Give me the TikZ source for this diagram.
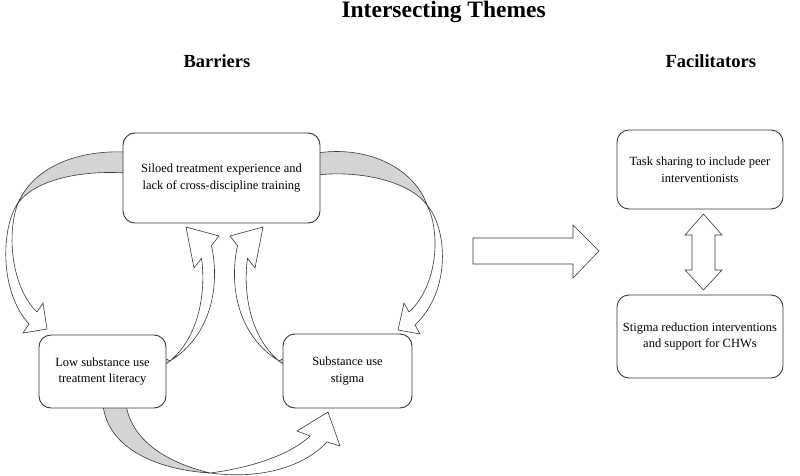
\documentclass[tikz,border=0pt]{standalone}
\usepackage{fontspec}
\setmainfont{Liberation Serif}
\definecolor{twist}{RGB}{212,212,212}
\definecolor{edge}{RGB}{55,55,55}

\begin{document}
\begin{tikzpicture}[x=1pt, y=-1pt,
    every node/.style={font=\fontsize{12.5}{16.5}\selectfont, align=center},
    box/.style={draw=edge, fill=white, line width=0.9pt, rounded corners=12pt, inner sep=0pt},
    heading/.style={font=\bfseries\fontsize{18.5}{22}\selectfont, anchor=base west},
    band/.style={draw=edge, line width=0.6pt, fill=white},
    back/.style={draw=edge, line width=0.6pt, fill=twist}]
    \useasboundingbox (0,0) rectangle (800,476);

    % Titles
    \node[heading, font=\bfseries\fontsize{23.5}{26}\selectfont] (title) at (338,18) {Intersecting Themes};
    \node[heading] (barriers) at (180,68) {Barriers};
    \node[heading] (facilitators) at (662,68) {Facilitators};

    % Curved arrow, siloed -> literacy
    \draw[back] (126,152) .. controls (80,150) and (35,165) .. (18,203)
                .. controls (35,180) and (80,170) .. (126,173) -- cycle;
    \draw[band] (18,203) .. controls (2,225) and (-2,290) .. (29,324)
                -- (23,333) -- (47,329) -- (43,303) -- (37,312)
                .. controls (12,288) and (6,235) .. (18,203) -- cycle;

    % Curved arrow, siloed -> stigma
    \draw[back] (317,153) .. controls (370,145) and (415,170) .. (427,205)
                .. controls (410,182) and (362,170) .. (317,175) -- cycle;
    \draw[band] (427,205) .. controls (447,228) and (452,290) .. (415,325)
                -- (420,334) -- (398,330) -- (404,303) -- (409,312)
                .. controls (436,288) and (442,235) .. (427,205) -- cycle;

    % Curved arrow, literacy -> stigma
    \draw[back] (103,405) .. controls (108,450) and (160,470) .. (210,473)
                .. controls (165,462) and (132,440) .. (126,405) -- cycle;
    \draw[band] (210,473) .. controls (262,480) and (305,466) .. (327,442)
                -- (340,446) -- (328,412) -- (297,431) -- (310,436)
                .. controls (290,455) and (250,468) .. (210,473) -- cycle;

    % Up arrows into siloed
    \draw[back] (163,357) -- (170,361) -- (163,366) -- cycle;
    \draw[band] (170,361) .. controls (200,336) and (206,290) .. (201.5,258.4)
                -- (194,268) -- (186,227) -- (219,236) -- (211.5,245.6)
                .. controls (220,285) and (212,335) .. (170,361) -- cycle;
    \draw[back] (286,357) -- (279,361) -- (286,366) -- cycle;
    \draw[band] (279,361) .. controls (249,336) and (243,290) .. (247.5,258.4)
                -- (255,268) -- (263,227) -- (230,236) -- (237.5,245.6)
                .. controls (229,285) and (237,335) .. (279,361) -- cycle;

    % Barriers boxes
    \node[box, minimum width=197pt, minimum height=90pt] (siloed) at (221.5,178)
        {Siloed treatment experience and\\lack of cross-discipline training};
    \node[box, minimum width=127pt, minimum height=73pt] (literacy) at (102.5,371.5)
        {Low substance use\\treatment literacy};
    \node[box, minimum width=129pt, minimum height=74pt] (stigma) at (347.5,371)
        {Substance use\\stigma};

    % Big arrow
    \draw[band] (473,238) -- (573,238) -- (573,225) -- (599,251) -- (573,278)
                -- (573,264) -- (473,264) -- cycle;

    % Facilitators boxes
    \node[box, minimum width=166pt, minimum height=79pt] (tasks) at (700,169.5)
        {Task sharing to include peer\\interventionists};
    \node[box, minimum width=166pt, minimum height=83pt] (reduction) at (700,336.5)
        {Stigma reduction interventions\\and support for CHWs};

    % Double arrow
    \draw[band] (703.5,214) -- (722,235) -- (715,235) -- (715,270) -- (722,270)
                -- (703.5,290) -- (685,270) -- (692,270) -- (692,235) -- (685,235) -- cycle;
\end{tikzpicture}
\end{document}
